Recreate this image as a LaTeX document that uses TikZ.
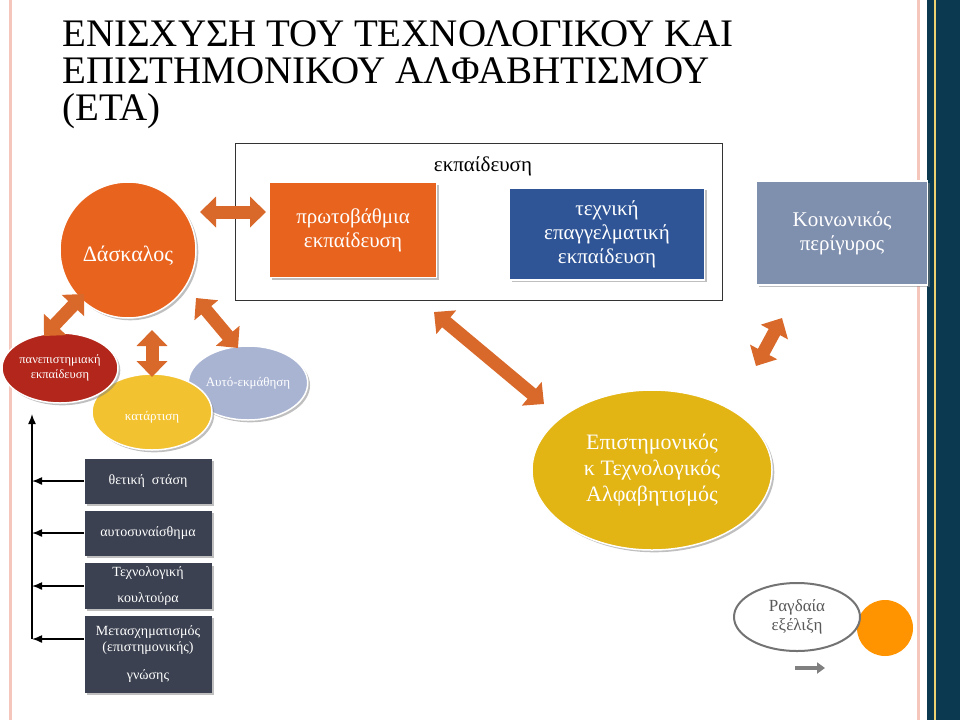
\documentclass[tikz,border=0pt]{standalone}
\usepackage{fontspec}
\setmainfont{Liberation Serif}
\usetikzlibrary{shapes.geometric,arrows.meta,shadows}
\definecolor{orangeA}{HTML}{E8641E}
\definecolor{blueA}{HTML}{2F5597}
\definecolor{greyblue}{HTML}{7F8FAE}
\definecolor{darkred}{HTML}{B2261B}
\definecolor{yellowA}{HTML}{F2C230}
\definecolor{lavender}{HTML}{A9B4D3}
\definecolor{slate}{HTML}{3B4150}
\definecolor{gold}{HTML}{E2B414}
\definecolor{navy}{HTML}{0B3A50}
\definecolor{pinkline}{HTML}{F4C6BC}
\definecolor{arrowor}{HTML}{D9692A}
\tikzset{
  topbox/.style={draw=white, line width=1.5pt, text=white, align=center, font=\fontsize{21}{24}\selectfont, drop shadow},
  oval/.style={ellipse, draw=white, line width=1.5pt, text=white, align=center, inner sep=0pt, drop shadow},
  darkbox/.style={fill=slate, minimum width=127pt, text=white, align=center, font=\fontsize{14}{17}\selectfont, drop shadow},
  bigarrow/.style={arrowor, line width=13pt, {Triangle[width=30pt,length=16pt]}-{Triangle[width=30pt,length=16pt]}},
  sidearrow/.style={-{Latex[length=10pt,width=8pt]}, line width=1.5pt}
}
\begin{document}
\begin{tikzpicture}[x=1pt,y=-1pt]
  \useasboundingbox (0,0) rectangle (960,720);
  % frame lines
  \fill [navy] (927,0) rectangle (960,720);
  \draw [gold!60!white, line width=1.5pt] (935,0) -- (935,720);
  \draw [pinkline, line width=3pt] (10,0) -- (10,720);
  \draw [pinkline, line width=3pt] (918,0) -- (918,720);

  % title
  \node [anchor=north west, align=left, font=\fontsize{39}{37}\selectfont, inner sep=0pt] (Title) at (62,20)
    {ΕΝΙΣΧΥΣΗ ΤΟΥ ΤΕΧΝΟΛΟΓΙΚΟΥ ΚΑΙ\\ΕΠΙΣΤΗΜΟΝΙΚΟΥ ΑΛΦΑΒΗΤΙΣΜΟΥ\\(ΕΤΑ)};

  % education frame
  \draw [thick, black!80] (235,143) rectangle (722,300);
  \node [font=\fontsize{21}{24}\selectfont] (Edu_label) at (483,166) {εκπαίδευση};

  \node [topbox, fill=orangeA, minimum width=167pt, minimum height=95pt] (Primary_node) at (353,230) {πρωτοβάθμια\\εκπαίδευση};
  \node [topbox, fill=blueA, minimum width=195pt, minimum height=92pt] (Tech_node) at (607,234) {τεχνική\\επαγγελματική\\εκπαίδευση};
  \node [topbox, fill=greyblue, minimum width=171pt, minimum height=104pt] (Social_node) at (842,233) {Κοινωνικός\\περίγυρος};

  % teacher
  \node [circle, fill=orangeA, minimum size=136pt, draw=white, line width=1.5pt, drop shadow] (Teacher_node) at (128,250) {};
  \node [text=white, font=\fontsize{22}{24}\selectfont] (Teacher_label) at (128,256) {Δάσκαλος};

  % ovals
  \node [oval, fill=lavender, minimum width=114pt, minimum height=74pt, font=\fontsize{13}{15}\selectfont] (Self_node) at (248,383) {Αυτό-εκμάθηση};
  \node [oval, fill=yellowA, minimum width=120pt, minimum height=76pt, font=\fontsize{13}{15}\selectfont] (Train_node) at (152,412) {\\[4pt]κατάρτιση};
  \node [oval, fill=darkred, minimum width=116pt, minimum height=70pt, font=\fontsize{12.5}{15}\selectfont] (Uni_node) at (60,368) {πανεπιστημιακή\\εκπαίδευση};

  % dark boxes
  \node [darkbox, minimum height=45pt] (Attitude_node) at (148,481) {θετική \ στάση};
  \node [darkbox, minimum height=45pt] (Selfaware_node) at (148,533) {αυτοσυναίσθημα};
  \node [darkbox, minimum height=45pt, font=\fontsize{14}{26}\selectfont] (Culture_node) at (148,586) {Τεχνολογική\\κουλτούρα};
  \node [darkbox, minimum height=77pt, font=\fontsize{14}{16}\selectfont] (Transform_node) at (148,654) {Μετασχηματισμός\\(επιστημονικής)\\[12pt]γνώσης};

  \coordinate (Rail_top) at (32,414);
  \coordinate (Rail_bottom) at (32,639);
  \draw [sidearrow] (Rail_bottom) -- (Rail_top);
  \draw [sidearrow] (Attitude_node.west) -- (32,481);
  \draw [sidearrow] (Selfaware_node.west) -- (32,533);
  \draw [sidearrow] (Culture_node.west) -- (32,586);
  \draw [sidearrow] (Transform_node.west |- Rail_bottom) -- (Rail_bottom);

  % literacy
  \node [ellipse, fill=gold, minimum width=240pt, minimum height=160pt, draw=white, line width=1.5pt, drop shadow, align=center, text=white, font=\fontsize{22}{26}\selectfont] (Literacy_node) at (652,470) {Επιστημονικός\\κ Τεχνολογικός\\Αλφαβητισμός};

  % rapid
  \node [circle, fill=orange!85!yellow, minimum size=56pt] (Dot_node) at (885,628) {};
  \node [ellipse, draw=black!55, line width=2pt, fill=white, minimum width=126pt, minimum height=68pt, inner sep=0pt, align=center, text=black!65, font=\fontsize{17}{19}\selectfont] (Rapid_node) at (797,617) {Ραγδαία\\εξέλιξη};
  \coordinate (Small_a) at (795,668);
  \coordinate (Small_b) at (825,668);
  \draw [black!50, line width=4pt, -{Triangle[width=11pt,length=8pt]}] (Small_a) -- (Small_b);

  % block arrows
  \draw [bigarrow] (200,212) -- (266,212);
  \draw [bigarrow] (84,294) -- (44,336);
  \draw [bigarrow] (152,330) -- (152,377);
  \draw [bigarrow] (196,298) -- (238,348);
  \draw [bigarrow] (434,312) -- (544,404);
  \draw [bigarrow] (782,318) -- (756,366);
\end{tikzpicture}
\end{document}
